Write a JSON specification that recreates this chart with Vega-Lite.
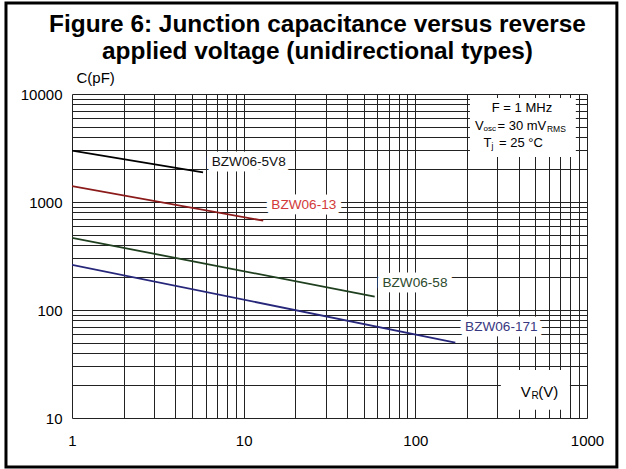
{
  "$schema": "https://vega.github.io/schema/vega-lite/v6.json",
  "width": 515,
  "height": 324,
  "autosize": "none",
  "padding": {"left": 72, "top": 94, "right": 39, "bottom": 51},
  "background": "white",
  "config": {
    "view": {"stroke": null},
    "font": "Liberation Sans",
    "text": {"font": "Liberation Sans"}
  },
  "title": {
    "text": ["Figure 6: Junction capacitance versus reverse", "applied voltage (unidirectional types)"],
    "fontSize": 24.4,
    "fontWeight": "bold",
    "font": "Liberation Sans",
    "color": "#000",
    "lineHeight": 27,
    "anchor": "middle",
    "frame": "group",
    "dx": -12,
    "offset": 8,
    "dy": 71
  },
  "datasets": {
    "curves": [
      {"series": "BZW06-5V8", "v": 1, "c": 2990},
      {"series": "BZW06-5V8", "v": 5.8, "c": 1885},
      {"series": "BZW06-13", "v": 1, "c": 1405},
      {"series": "BZW06-13", "v": 13, "c": 672},
      {"series": "BZW06-58", "v": 1, "c": 466},
      {"series": "BZW06-58", "v": 58, "c": 133},
      {"series": "BZW06-171", "v": 1, "c": 262},
      {"series": "BZW06-171", "v": 171, "c": 50}
    ],
    "labels": [
      {"series": "BZW06-5V8", "v": 10.7, "c": 2344},
      {"series": "BZW06-13", "v": 22.4, "c": 937},
      {"series": "BZW06-58", "v": 99.5, "c": 178},
      {"series": "BZW06-171", "v": 317, "c": 70}
    ]
  },
  "data": {"name": "curves"},
  "resolve": {"scale": {"color": "independent"}},
  "layer": [
    {
      "mark": {"type": "line", "strokeWidth": 1.8, "clip": true},
      "encoding": {
        "x": {
          "field": "v", "type": "quantitative",
          "scale": {"type": "log", "domain": [1, 1000]},
          "axis": {
            "title": null,
            "values": [1,2,3,4,5,6,7,8,9,10,20,30,40,50,60,70,80,90,100,200,300,400,500,600,700,800,900,1000],
            "format": "d",
            "labelExpr": "datum.value == 1 || datum.value == 10 || datum.value == 100 || datum.value == 1000 ? datum.label : ''",
            "labelOverlap": false,
            "labelFlush": false,
            "labelFontSize": 15,
            "labelFont": "Liberation Sans",
            "labelColor": "#000",
            "labelPadding": 15,
            "ticks": false,
            "domain": false,
            "grid": true,
            "gridColor": "#222",
            "gridWidth": 1,
            "gridOpacity": 1
          }
        },
        "y": {
          "field": "c", "type": "quantitative",
          "scale": {"type": "log", "domain": [10, 10000]},
          "axis": {
            "title": "C(pF)",
            "titleAngle": 0,
            "titleAlign": "left",
            "titleBaseline": "alphabetic",
            "titleX": 4,
            "titleY": -12,
            "titleFontSize": 15,
            "titleFontWeight": "normal",
            "titleFont": "Liberation Sans",
            "titleColor": "#000",
            "values": [10,20,30,40,50,60,70,80,90,100,200,300,400,500,600,700,800,900,1000,2000,3000,4000,5000,6000,7000,8000,9000,10000],
            "format": "d",
            "labelExpr": "datum.value == 10 || datum.value == 100 || datum.value == 1000 || datum.value == 10000 ? datum.label : ''",
            "labelOverlap": false,
            "labelFlush": false,
            "labelFontSize": 15,
            "labelFont": "Liberation Sans",
            "labelColor": "#000",
            "labelPadding": 10,
            "ticks": false,
            "domain": false,
            "grid": true,
            "gridColor": "#222",
            "gridWidth": 1,
            "gridOpacity": 1
          }
        },
        "color": {
          "field": "series", "type": "nominal", "legend": null,
          "scale": {"domain": ["BZW06-5V8", "BZW06-13", "BZW06-58", "BZW06-171"], "range": ["#000000", "#8b1a1a", "#1f3f1f", "#26267a"]}
        },
        "detail": {"field": "series"}
      }
    },
    {
      "data": {"values": [{}]},
      "mark": {"type": "rect", "fill": "white", "stroke": null},
      "encoding": {
        "x": {"datum": 208}, "x2": {"datum": 861},
        "y": {"datum": 9182}, "y2": {"datum": 2610}
      }
    },
    {
      "data": {"values": [{}]},
      "mark": {"type": "rect", "fill": "white", "stroke": null},
      "encoding": {
        "x": {"datum": 315}, "x2": {"datum": 795},
        "y": {"datum": 27.8}, "y2": {"datum": 11.9}
      }
    },
    {
      "data": {"name": "labels"},
      "mark": {"type": "text", "fontSize": 13.6, "stroke": "white", "strokeWidth": 11, "strokeJoin": "round", "fill": "white", "baseline": "middle", "align": "center"},
      "encoding": {
        "x": {"field": "v", "type": "quantitative"},
        "y": {"field": "c", "type": "quantitative"},
        "text": {"field": "series"}
      }
    },
    {
      "data": {"name": "labels"},
      "mark": {"type": "text", "fontSize": 13.6, "baseline": "middle", "align": "center"},
      "encoding": {
        "x": {"field": "v", "type": "quantitative"},
        "y": {"field": "c", "type": "quantitative"},
        "text": {"field": "series"},
        "color": {
          "field": "series", "type": "nominal", "legend": null,
          "scale": {"domain": ["BZW06-5V8", "BZW06-13", "BZW06-58", "BZW06-171"], "range": ["#111111", "#d23a3a", "#2d4a2d", "#383880"]}
        }
      }
    },
    {
      "data": {"values": [{}]},
      "mark": {"type": "text", "text": "F = 1 MHz", "fontSize": 13, "align": "center", "baseline": "middle", "color": "#000"},
      "encoding": {"x": {"datum": 418}, "y": {"datum": 7410}}
    },
    {
      "data": {"values": [{}]},
      "mark": {"type": "text", "text": "V", "fontSize": 13, "align": "left", "baseline": "middle", "dx": -47, "color": "#000"},
      "encoding": {"x": {"datum": 418}, "y": {"datum": 5058}}
    },
    {
      "data": {"values": [{}]},
      "mark": {"type": "text", "text": "osc", "fontSize": 8, "align": "left", "baseline": "middle", "dx": -38.5, "dy": 3, "color": "#000"},
      "encoding": {"x": {"datum": 418}, "y": {"datum": 5058}}
    },
    {
      "data": {"values": [{}]},
      "mark": {"type": "text", "text": "= 30 mV", "fontSize": 13, "align": "left", "baseline": "middle", "dx": -24.5, "color": "#000"},
      "encoding": {"x": {"datum": 418}, "y": {"datum": 5058}}
    },
    {
      "data": {"values": [{}]},
      "mark": {"type": "text", "text": "RMS", "fontSize": 8.5, "align": "left", "baseline": "middle", "dx": 25, "dy": 3, "color": "#000"},
      "encoding": {"x": {"datum": 418}, "y": {"datum": 5058}}
    },
    {
      "data": {"values": [{}]},
      "mark": {"type": "text", "text": "T", "fontSize": 13, "align": "left", "baseline": "middle", "dx": -38.5, "color": "#000"},
      "encoding": {"x": {"datum": 418}, "y": {"datum": 3516}}
    },
    {
      "data": {"values": [{}]},
      "mark": {"type": "text", "text": "j", "fontSize": 8.5, "align": "left", "baseline": "middle", "dx": -30.5, "dy": 3, "color": "#000"},
      "encoding": {"x": {"datum": 418}, "y": {"datum": 3516}}
    },
    {
      "data": {"values": [{}]},
      "mark": {"type": "text", "text": "= 25 °C", "fontSize": 13, "align": "left", "baseline": "middle", "dx": -23, "color": "#000"},
      "encoding": {"x": {"datum": 418}, "y": {"datum": 3516}}
    },
    {
      "data": {"values": [{}]},
      "mark": {"type": "text", "text": "V", "fontSize": 15, "align": "left", "baseline": "middle", "dx": -18.3, "color": "#000"},
      "encoding": {"x": {"datum": 525}, "y": {"datum": 17.4}}
    },
    {
      "data": {"values": [{}]},
      "mark": {"type": "text", "text": "R", "fontSize": 10, "align": "left", "baseline": "middle", "dx": -7.5, "dy": 3.5, "color": "#000"},
      "encoding": {"x": {"datum": 525}, "y": {"datum": 17.4}}
    },
    {
      "data": {"values": [{}]},
      "mark": {"type": "text", "text": "(V)", "fontSize": 15, "align": "left", "baseline": "middle", "dx": -0.7, "color": "#000"},
      "encoding": {"x": {"datum": 525}, "y": {"datum": 17.4}}
    },
    {
      "data": {"values": [{}]},
      "mark": {"type": "rect", "fill": null, "stroke": "#000", "strokeWidth": 3, "clip": false},
      "encoding": {
        "x": {"datum": 0.4125}, "x2": {"datum": 1493},
        "y": {"datum": 69660}, "y2": {"datum": 3.52}
      }
    }
  ]
}
